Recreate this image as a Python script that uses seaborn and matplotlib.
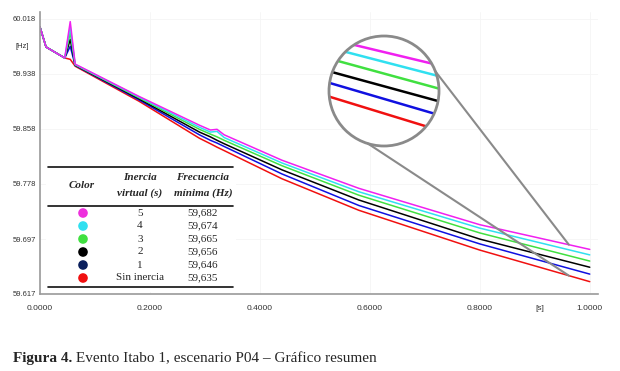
import numpy as np
import pandas as pd
import matplotlib
matplotlib.use('Agg')
import matplotlib.pyplot as plt
import seaborn as sns
from matplotlib.patches import Circle, ConnectionPatch, Rectangle

W, H = 620, 371

# time [s] and frequency [Hz] for each virtual inertia case
t = [0.0, 0.011, 0.045, 0.055, 0.064, 0.18, 0.29, 0.31, 0.322, 0.335, 0.44, 0.58, 0.80, 1.00]
f_h5 = [60.006, 59.977, 59.961, 60.014, 59.952, 59.905, 59.863, 59.856, 59.857, 59.849, 59.812, 59.771, 59.718, 59.682]
f_h4 = [60.006, 59.977, 59.961, 60.006, 59.9515, 59.904, 59.860, 59.853, 59.854, 59.845, 59.808, 59.766, 59.713, 59.674]
f_h3 = [60.006, 59.977, 59.961, 59.998, 59.951, 59.903, 59.857, 59.850, 59.846, 59.841, 59.804, 59.761, 59.706, 59.665]
f_h2 = [60.006, 59.977, 59.961, 59.988, 59.9505, 59.9015, 59.853, 59.846, 59.841, 59.836, 59.798, 59.754, 59.697, 59.656]
f_h1 = [60.006, 59.977, 59.961, 59.978, 59.950, 59.900, 59.849, 59.841, 59.837, 59.832, 59.792, 59.746, 59.690, 59.646]
f_h0 = [60.006, 59.977, 59.961, 59.959, 59.949, 59.898, 59.844, 59.836, 59.831, 59.826, 59.785, 59.739, 59.681, 59.635]

inercia = ['5', '4', '3', '2', '1', 'Sin inercia']
f_min = ['59,682', '59,674', '59,665', '59,656', '59,646', '59,635']
line_colors = ['#f020f0', '#30e0f0', '#40e040', '#000000', '#1010e0', '#f01010']
dot_colors = ['#ee30dd', '#30e0f0', '#40e040', '#000000', '#0a1f5c', '#f01010']

xticks = [0.0, 0.2, 0.4, 0.6, 0.8, 1.0]
yticks = [59.617, 59.697, 59.778, 59.858, 59.938, 60.018]
ytick_labels = ['59.617', '59.697', '59.778', '59.858', '59.938', '60.018']

series = [f_h5, f_h4, f_h3, f_h2, f_h1, f_h0]
df = pd.concat([pd.DataFrame({'t': t, 'f': s, 'caso': name})
                for s, name in zip(series, inercia)], ignore_index=True)
order = inercia[::-1]  # red drawn first, magenta on top
pal = dict(zip(inercia, line_colors))

sns.set_theme(style='white')
plt.rcParams['font.family'] = ['Liberation Sans', 'DejaVu Sans']


def fx(px):
    return px / W


def fy(py):
    return 1 - py / H


fig = plt.figure(figsize=(6.2, 3.71), dpi=100)
ax = fig.add_axes([fx(40), fy(294), 558 / W, 282 / H])
sns.lineplot(data=df, x='t', y='f', hue='caso', hue_order=order, palette=pal,
             estimator=None, sort=False, legend=False, lw=1.1, ax=ax)
ax.set_xlim(0, 1.015)
ax.set_ylim(59.617, 60.028)
ax.set_xticks(xticks)
ax.set_xticklabels([f'{v:.4f}' for v in xticks])
ax.set_yticks(yticks)
ax.set_yticklabels(ytick_labels)
ax.set_xlabel('')
ax.set_ylabel('')
ax.tick_params(axis='x', length=0, pad=8, labelsize=6, labelcolor='#333333')
ax.tick_params(axis='y', length=0, pad=3, labelsize=5.5, labelcolor='#333333')
ax.grid(True, color='#f5f5f5', lw=0.6)
for s in ['top', 'right']:
    ax.spines[s].set_visible(False)
for s in ['left', 'bottom']:
    ax.spines[s].set_color('#9a9a9a')
    ax.spines[s].set_linewidth(1.2)
fig.text(fx(22), fy(47), '[Hz]', fontsize=5.5, color='#333333', ha='center', va='center')
fig.text(fx(540), fy(309), '[s]', fontsize=6, color='#333333', ha='center', va='center')

# magnifier
cx, cy, r = 384, 91, 55
ax_in = fig.add_axes([fx(cx - r), fy(cy + r), 2 * r / W, 2 * r / H])
ax_in.set_axis_off()
disk = Circle((0.5, 0.5), 0.5, transform=ax_in.transAxes, facecolor='white',
              edgecolor='none', zorder=0)
ax_in.add_patch(disk)
sns.lineplot(data=df, x='t', y='f', hue='caso', hue_order=order, palette=pal,
             estimator=None, sort=False, legend=False, lw=1.8, ax=ax_in)
for ln in ax_in.lines:
    ln.set_clip_path(disk)
ax_in.set_xlim(0.878, 0.982)
ax_in.set_ylim(59.628, 59.706)
ring = Circle((0.5, 0.5), 0.5, transform=ax_in.transAxes, facecolor='none',
              edgecolor='#8a8a8a', lw=2, zorder=5, clip_on=False)
ax_in.add_patch(ring)

x_end = 0.962
for ang, s in [(21, f_h5), (-107, f_h0)]:
    a = np.deg2rad(ang)
    con = ConnectionPatch(xyA=(0.5 + 0.5 * np.cos(a), 0.5 + 0.5 * np.sin(a)),
                          coordsA=ax_in.transAxes,
                          xyB=(x_end, np.interp(x_end, t, s)), coordsB=ax.transData,
                          color='#8a8a8a', lw=1.5)
    fig.add_artist(con)

# summary table
tab = fig.add_axes([fx(46), fy(292), 190 / W, 130 / H])
tab.set_xlim(46, 236)
tab.set_ylim(292, 162)
tab.set_axis_off()
tab.add_patch(Rectangle((46, 162), 190, 130, facecolor='white', edgecolor='none'))
serif = ['Liberation Serif', 'DejaVu Serif']
for yy in [167, 206, 287]:
    tab.plot([48, 233], [yy, yy], color='#111111', lw=1.2)
head = dict(family=serif, style='italic', weight='bold', fontsize=8, ha='center', va='center')
tab.text(82, 186, 'Color', **head)
tab.text(140, 178, 'Inercia', **head)
tab.text(140, 193, 'virtual (s)', **head)
tab.text(203, 178, 'Frecuencia', **head)
tab.text(203, 193, 'mínima (Hz)', **head)
rows_y = [213 + 13 * i for i in range(len(inercia))]
tab.scatter([83] * len(inercia), rows_y, s=48, c=dot_colors, edgecolors='none')
for yy, h, fm in zip(rows_y, inercia, f_min):
    tab.text(140, yy, h, family=serif, fontsize=8, ha='center', va='center')
    tab.text(203, yy, fm, family=serif, fontsize=8, ha='center', va='center')

# caption
cap = fig.text(fx(13), fy(362), 'Figura 4.', family=serif, weight='bold',
               fontsize=11, va='baseline')
plt.annotate(' Evento Itabo 1, escenario P04 – Gráfico resumen', xy=(1, 0),
             xycoords=cap, va='bottom', family=serif, fontsize=11)

fig.savefig('out.png', dpi=100)
